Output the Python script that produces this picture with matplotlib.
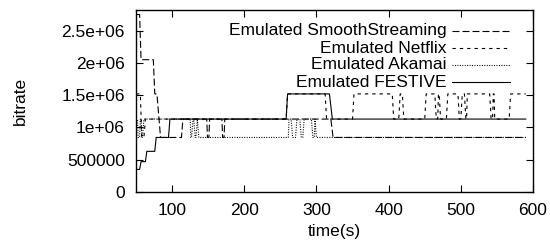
import matplotlib
matplotlib.use("Agg")
import matplotlib.pyplot as plt

plt.rcParams['font.family'] = ['Liberation Sans', 'DejaVu Sans']

# Emulated SmoothStreaming (time s, bitrate bps)
ss_t = [50, 55, 57, 74, 76, 79, 84, 113, 115, 148, 149, 151, 152, 169, 170, 172, 173, 320, 323, 590]
ss_v = [2750000, 2750000, 2050000, 2050000, 1520000, 1520000, 845000, 845000, 1130000, 1130000,
        845000, 845000, 1130000, 1130000, 845000, 845000, 1130000, 1130000, 845000, 845000]

# Emulated Netflix
nf_t = [50, 56, 58, 61, 63, 258, 260, 312, 314, 350, 352, 405, 407, 414, 416, 419, 421, 450,
        452, 464, 466, 468, 469, 470, 472, 480, 482, 496, 498, 500, 502, 505, 507, 508, 509,
        540, 542, 544, 545, 546, 547, 567, 569, 590]
nf_v = [1520000, 1520000, 845000, 845000, 1130000, 1130000, 1520000, 1520000, 1130000, 1130000,
        1520000, 1520000, 1130000, 1130000, 1520000, 1520000, 1130000, 1130000,
        1520000, 1520000, 1130000, 1130000, 1520000, 1520000, 1130000, 1130000, 1520000, 1520000,
        1130000, 1130000, 1520000, 1520000, 1130000, 1130000, 1520000,
        1520000, 1130000, 1130000, 1520000, 1520000, 1130000, 1130000, 1520000, 1520000]

# Emulated Akamai
ak_t = [50, 52, 53, 55, 56, 57, 58, 59, 61, 125, 126, 127, 129, 130, 132, 133, 135, 137,
        261, 262, 265, 267, 271, 273, 277, 279, 281, 283, 293, 295, 297, 298, 300, 590]
ak_v = [1130000, 1130000, 845000, 845000, 1130000, 1130000, 845000, 845000, 1130000, 1130000,
        845000, 845000, 1130000, 1130000, 845000, 845000, 1130000, 845000,
        845000, 1130000, 1130000, 845000, 845000, 1130000, 1130000, 845000, 845000, 1130000,
        1130000, 845000, 845000, 1130000, 845000, 845000]

# Emulated FESTIVE
fe_t = [50, 55, 57, 63, 65, 76, 78, 95, 97, 258, 260, 318, 322, 590]
fe_v = [350000, 350000, 470000, 470000, 630000, 630000, 845000, 845000, 1130000, 1130000,
        1520000, 1520000, 1130000, 1130000]

labels = ["Emulated SmoothStreaming", "Emulated Netflix", "Emulated Akamai", "Emulated FESTIVE"]
x_ticks = [100, 200, 300, 400, 500, 600]
y_ticks = [0, 500000, 1000000, 1500000, 2000000, 2500000]
y_tick_labels = ["0", "500000", "1e+06", "1.5e+06", "2e+06", "2.5e+06"]

FS = 12.5
fig = plt.figure(figsize=(5.5, 2.45), dpi=100)
ax = fig.add_axes([136/550, 1 - 192/245, (533-136)/550, (192-10)/245])

styles = [(0, (6.3, 2.7)), (0, (3, 3.6)), (0, (0.9, 1.3)), '-']
series = [(ss_t, ss_v), (nf_t, nf_v), (ak_t, ak_v), (fe_t, fe_v)]
for (t, v), ls in zip(series, styles):
    ax.plot(t, v, color='black', lw=0.8, linestyle=ls)

ax.set_xlim(50, 600)
ax.set_ylim(0, 2820000)
ax.set_xticks(x_ticks)
ax.set_xticklabels([str(x) for x in x_ticks])
ax.set_yticks(y_ticks)
ax.set_yticklabels(y_tick_labels)
ax.tick_params(direction='in', length=5, width=0.8, top=True, right=True,
               labelsize=FS)
ax.tick_params(axis='y', pad=8)
ax.tick_params(axis='x', pad=8)
for s in ax.spines.values():
    s.set_linewidth(1.0)
ax.set_xlabel("time(s)", fontsize=FS, labelpad=4)
ax.set_ylabel("bitrate", fontsize=FS, labelpad=24)

# legend: right-aligned text with sample line on the right
row_y = [0.885, 0.791, 0.698, 0.604]
for lab, ls, yy in zip(labels, styles, row_y):
    ax.text(0.783, yy, lab, transform=ax.transAxes, ha='right', va='center', fontsize=FS)
    ax.plot([0.796, 0.942], [yy, yy], transform=ax.transAxes, color='black', lw=0.8,
            linestyle=ls)

fig.savefig("out.png", dpi=100)
